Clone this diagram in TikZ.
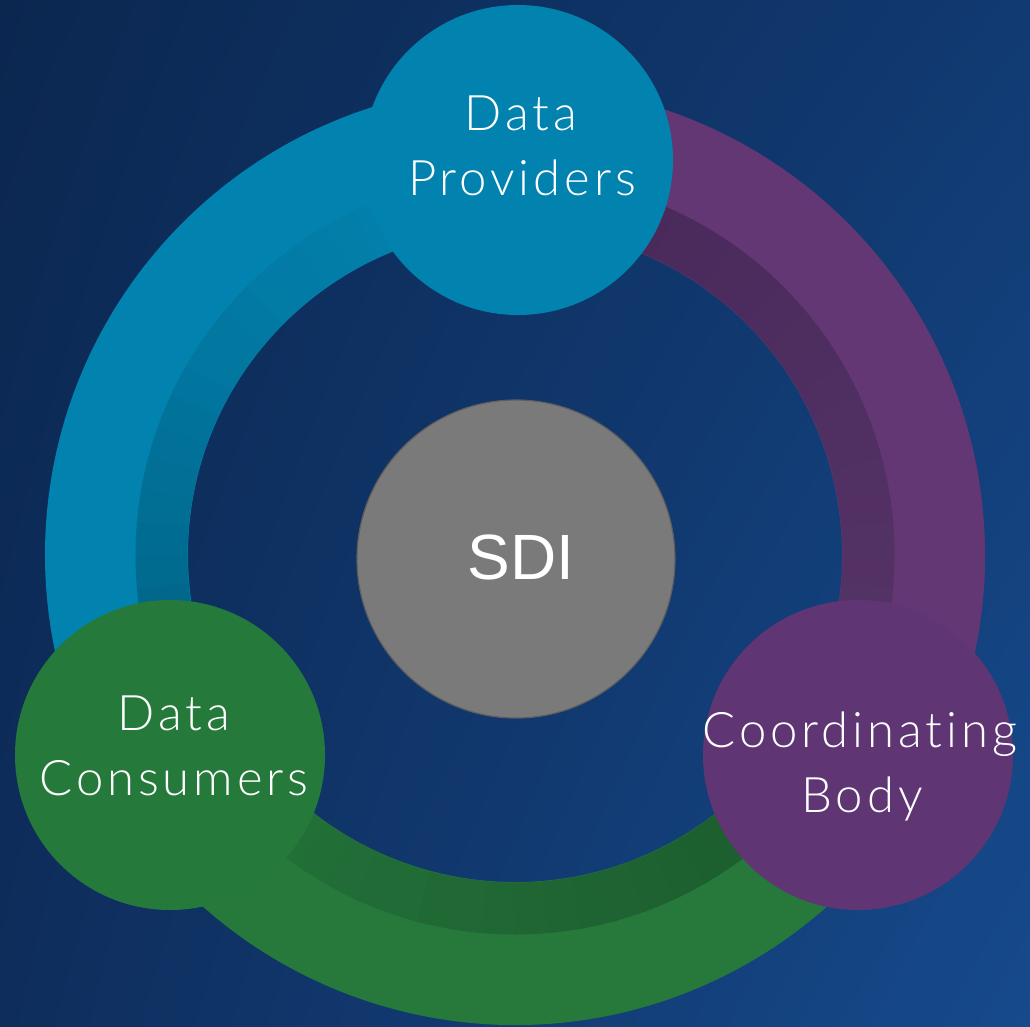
\documentclass[tikz,border=0pt]{standalone}
\usepackage{fontspec}
\usetikzlibrary{shadings}
\newfontfamily\labfont[LetterSpace=8, Ligatures={NoCommon}, UprightFont={* Light}]{Lato}
\newfontfamily\sdifont{Liberation Sans}
\definecolor{bgUL}{HTML}{0B2750}
\definecolor{bgUR}{HTML}{113A72}
\definecolor{bgLL}{HTML}{0E2D5C}
\definecolor{bgLR}{HTML}{164A8C}
\definecolor{ringblue}{HTML}{0282AF}
\definecolor{ringpurple}{HTML}{623773}
\definecolor{ringgreen}{HTML}{26793B}
\definecolor{bandBlueA}{HTML}{0281AD}
\definecolor{bandBlueB}{HTML}{005E80}
\definecolor{bandPurpleA}{HTML}{563469}
\definecolor{bandPurpleB}{HTML}{472858}
\definecolor{bandGreenA}{HTML}{23733A}
\definecolor{bandGreenB}{HTML}{1B5A2D}
\definecolor{provblue}{HTML}{0282AE}
\definecolor{coordpurple}{HTML}{5F3673}
\definecolor{consgreen}{HTML}{257A3B}
\definecolor{sdigray}{HTML}{7A7A7A}
\definecolor{sdiborder}{HTML}{5E5E5E}
\tikzset{
  lab/.style={text=white, font=\labfont\fontsize{49}{58}\selectfont, anchor=base, inner sep=0pt},
  sdilab/.style={text=white, anchor=base, inner sep=0pt, font=\sdifont\fontsize{64}{70}\selectfont},
  hub/.style={circle, minimum size=310pt, inner sep=0pt, draw=none},
  ringseg/.style={line width=143pt},
  bandseg/.style={line width=52pt}
}
\begin{document}
\begin{tikzpicture}[x=1pt,y=-1pt]
\useasboundingbox (0,0) rectangle (1030,1026);
\shade[upper left=bgUL, upper right=bgUR, lower left=bgLL, lower right=bgLR] (0,0) rectangle (1030,1026);
\coordinate (C) at (515,555);
% ring segments
\draw[ringseg, ringblue] (C) ++(90:398.5pt) arc[start angle=90, end angle=210, radius=398.5pt];
\draw[ringseg, ringgreen] (C) ++(210:398.5pt) arc[start angle=210, end angle=330, radius=398.5pt];
\draw[ringseg, ringpurple] (C) ++(330:398.5pt) arc[start angle=330, end angle=450, radius=398.5pt];
% darker inner bands
\foreach \i in {0,...,23} {
  \pgfmathsetmacro\a{90+5*\i}
  \pgfmathtruncatemacro\p{100*(\i/23)^1.6}
  \colorlet{tmpc}{bandBlueB!\p!bandBlueA}
  \draw[bandseg, tmpc] (C) ++(\a:353.5pt) arc[start angle=\a, end angle=\a+5.4, radius=353.5pt];
}
\foreach \i in {0,...,23} {
  \pgfmathsetmacro\a{210+5*\i}
  \pgfmathtruncatemacro\p{100*(\i/23)}
  \colorlet{tmpc}{bandGreenB!\p!bandGreenA}
  \draw[bandseg, tmpc] (C) ++(\a:353.5pt) arc[start angle=\a, end angle=\a+5.4, radius=353.5pt];
}
\foreach \i in {0,...,23} {
  \pgfmathsetmacro\a{330+5*\i}
  \pgfmathtruncatemacro\p{100*(\i/23)}
  \colorlet{tmpc}{bandPurpleB!\p!bandPurpleA}
  \draw[bandseg, tmpc] (C) ++(\a:353.5pt) arc[start angle=\a, end angle=\a+5.4, radius=353.5pt];
}
% hubs
\node[hub, fill=provblue] (prov) at (518,160) {};
\node[hub, fill=coordpurple] (coord) at (858,755) {};
\node[hub, fill=consgreen] (cons) at (170,755) {};
\node[circle, minimum size=318pt, inner sep=0pt, fill=sdigray, draw=sdiborder, line width=1.2pt] (sdi) at (516,559) {};
% labels
\node[lab] (provA) at (521,130) {Data};
\node[lab] (provB) at (522,195) {Providers};
\node[lab] (coordA) at (860,747) {Coordinating};
\node[lab] (coordB) at (862,812) {Body};
\node[lab] (consA) at (174,730) {Data};
\node[lab] (consB) at (174,795) {Consumers};
\node[sdilab] (sdiT) at (521,579.5) {SDI};
\end{tikzpicture}
\end{document}
